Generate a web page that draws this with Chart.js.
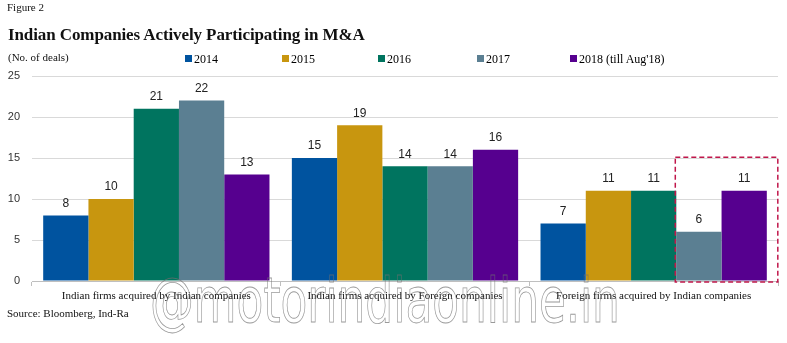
<!DOCTYPE html>
<html>
<head>
<meta charset="utf-8">
<script src="https://cdn.jsdelivr.net/npm/chart.js@4.4.0/dist/chart.umd.min.js"></script>
<style>
  body { margin: 0; background: #fff; }
  #wrap { position: relative; width: 787px; height: 343px; overflow: hidden; font-family: "Liberation Serif", serif; }
  #c { position: absolute; left: 0; top: 0; }
  .txt { position: absolute; white-space: nowrap; color: #111; }
  #fig { left: 7px; top: 1px; font-size: 11px; }
  #title { left: 8px; top: 25px; font-size: 17px; font-weight: bold; letter-spacing: -0.1px; }
  #unit { left: 8px; top: 51px; font-size: 11px; }
  #src { left: 7px; top: 307px; font-size: 11px; }
  #legend { position: absolute; top: 52px; left: 0; height: 14px; font-size: 12px; }
  .li { position: absolute; top: 0; white-space: nowrap; }
  .li i { display: inline-block; width: 7px; height: 7px; margin-right: 2px; vertical-align: 1px; }
  #wm { position: absolute; left: 150px; top: 264px; font-family: "Liberation Sans Narrow", "DejaVu Sans Condensed", sans-serif;
        font-size: 62px; color: transparent; -webkit-text-stroke: 0.8px rgba(110,110,110,0.7); transform-origin: 0 0; white-space: nowrap; }
</style>
</head>
<body>
<div id="wrap">
  <canvas id="c" width="787" height="343"></canvas>
  <div class="txt" id="fig">Figure 2</div>
  <div class="txt" id="title">Indian Companies Actively Participating in M&amp;A</div>
  <div class="txt" id="unit">(No. of deals)</div>
  <div id="legend"></div>
  <div class="txt" id="src">Source: Bloomberg, Ind-Ra</div>
  <div id="wm">@motorindiaonline.in</div>
</div>
<script>
// data
const categories = ['Indian firms acquired by Indian companies', 'Indian firms acquired by Foreign companies', 'Foreign firms acquired by Indian companies'];
const seriesNames = ['2014', '2015', '2016', '2017', "2018 (till Aug'18)"];
const colors = ['#00539F', '#C8960F', '#00745F', '#5B7F92', '#56008F'];
const v2014 = [8, 15, 7];
const v2015 = [10, 19, 11];
const v2016 = [21, 14, 11];
const v2017 = [22, 14, 6];
const v2018 = [13, 16, 11];
const yTicks = [0, 5, 10, 15, 20, 25];
const legendX = [185, 282, 378, 477, 570];

const allValues = [v2014, v2015, v2016, v2017, v2018];

// html legend
const leg = document.getElementById('legend');
seriesNames.forEach(function (n, i) {
  const d = document.createElement('div');
  d.className = 'li';
  d.style.left = legendX[i] + 'px';
  d.innerHTML = '<i style="background:' + colors[i] + '"></i>' + n;
  leg.appendChild(d);
});

// watermark width fit
const wm = document.getElementById('wm');
wm.style.transform = 'scaleX(' + (470 / wm.offsetWidth) + ')';

const valueLabels = {
  id: 'valueLabels',
  afterDatasetsDraw(chart) {
    const ctx = chart.ctx;
    ctx.save();
    ctx.font = '12px "Liberation Sans", Arial, sans-serif';
    ctx.fillStyle = '#222';
    ctx.textAlign = 'center';
    ctx.textBaseline = 'bottom';
    chart.data.datasets.forEach(function (ds, i) {
      chart.getDatasetMeta(i).data.forEach(function (bar, j) {
        ctx.fillText(ds.data[j], bar.x, bar.y - 6);
      });
    });
    // dashed highlight box around last two bars of 3rd group
    const b1 = chart.getDatasetMeta(3).data[2];
    const b2 = chart.getDatasetMeta(4).data[2];
    const left = b1.x - b1.width / 2 - 1;
    const right = b2.x + b2.width / 2 + 11;
    const top = chart.scales.y.getPixelForValue(15.1);
    const bottom = chart.chartArea.bottom + 1;
    ctx.strokeStyle = '#C0174B';
    ctx.lineWidth = 1.5;
    ctx.setLineDash([5, 3]);
    ctx.strokeRect(left, top, right - left, bottom - top);
    ctx.restore();
  }
};

new Chart(document.getElementById('c'), {
  type: 'bar',
  data: {
    labels: categories,
    datasets: seriesNames.map(function (n, i) {
      return { label: n, data: allValues[i], backgroundColor: colors[i], borderWidth: 0 };
    })
  },
  options: {
    responsive: false,
    animation: false,
    layout: { padding: { top: 76, right: 9, left: 0, bottom: 38 } },
    datasets: { bar: { categoryPercentage: 0.91, barPercentage: 1 } },
    plugins: { legend: { display: false }, tooltip: { enabled: false } },
    scales: {
      x: {
        afterFit: function (s) { s.height = 24; },
        grid: { offset: true, drawOnChartArea: false, tickLength: 5, color: '#BFBFBF' },
        border: { color: '#BFBFBF' },
        ticks: { color: '#111', font: { family: '"Liberation Serif", serif', size: 11 }, padding: 4, maxRotation: 0 }
      },
      y: {
        min: 0, max: 25,
        afterFit: function (s) { s.width = 32; },
        afterBuildTicks: function (s) { s.ticks = yTicks.map(function (v) { return { value: v }; }); },
        grid: { color: '#D9D9D9', drawTicks: false },
        border: { display: false },
        ticks: { color: '#333', font: { family: '"Liberation Sans", Arial, sans-serif', size: 11 }, padding: 12 }
      }
    }
  },
  plugins: [valueLabels]
});
</script>
</body>
</html>
